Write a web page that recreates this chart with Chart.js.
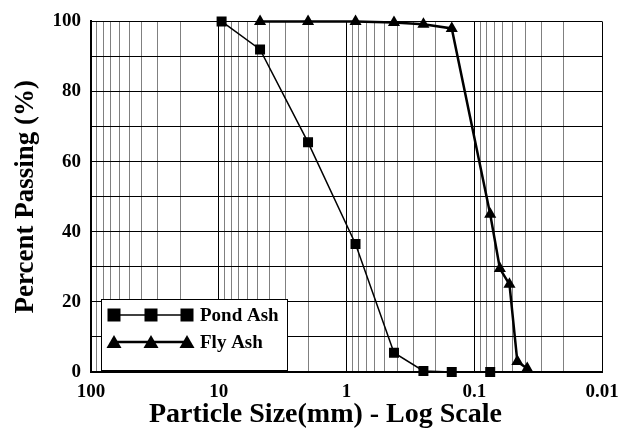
<!DOCTYPE html>
<html>
<head>
<meta charset="utf-8">
<script src="https://cdn.jsdelivr.net/npm/chart.js@4/dist/chart.umd.min.js"></script>
<style>
  html, body { margin: 0; padding: 0; background: #fff; }
  #chart { display: block; }
</style>
</head>
<body>
<canvas id="chart" width="630" height="432"></canvas>
<script>
// sieve / hydrometer sizes (mm) and percent passing
const pondSizes = [9.5, 4.75, 2.0, 0.85, 0.425, 0.25, 0.15, 0.075];
const pondPassing = [100, 92, 65.5, 36.5, 5.5, 0.3, 0, 0];

const flySizes = [4.75, 2.0, 0.85, 0.425, 0.25, 0.15, 0.075, 0.063, 0.053, 0.046, 0.0385];
const flyPassing = [100, 100, 100, 99.7, 99.2, 98, 45, 29.5, 25, 3, 1];

const seriesNames = ['Pond Ash', 'Fly Ash'];
const xTickLabels = [100, 10, 1, 0.1, 0.01];
const yTickLabels = [0, 20, 40, 60, 80, 100];

const FONT = '"Liberation Serif", "Times New Roman", serif';

const toPoints = (xs, ys) => xs.map((x, i) => ({x: x, y: ys[i]}));

// every 1..9 x 10^n between 0.01 and 100 for the log grid
const logTicks = [];
for (let e = -2; e <= 1; e++) {
  for (let m = 1; m <= 9; m++) {
    logTicks.push(+(m * Math.pow(10, e)).toPrecision(3));
  }
}
logTicks.push(100);

const isDecade = v => xTickLabels.some(t => Math.abs(t - v) < 1e-9);

// legend drawn as a box with three markers on a line, like the original
const boxLegend = {
  id: 'boxLegend',
  afterDraw(chart) {
    const ctx = chart.ctx;
    const left = 101, top = 299, w = 186, h = 71;
    ctx.save();
    ctx.fillStyle = '#fff';
    ctx.fillRect(left, top, w, h);
    ctx.strokeStyle = '#000';
    ctx.lineWidth = 1;
    ctx.strokeRect(left + 0.5, top + 0.5, w, h);

    const rows = [315, 342];
    const mx = [114, 151, 187];
    chart.data.datasets.forEach((ds, i) => {
      const y = rows[i];
      ctx.strokeStyle = '#000';
      ctx.lineWidth = ds.borderWidth;
      ctx.beginPath();
      ctx.moveTo(mx[0], y);
      ctx.lineTo(mx[2], y);
      ctx.stroke();
      ctx.fillStyle = '#000';
      mx.forEach(x => {
        if (ds.pointStyle === 'rect') {
          ctx.fillRect(x - 6.5, y - 6.5, 13, 13);
        } else {
          ctx.beginPath();
          ctx.moveTo(x, y - 7);
          ctx.lineTo(x + 7.5, y + 6);
          ctx.lineTo(x - 7.5, y + 6);
          ctx.closePath();
          ctx.fill();
        }
      });
      ctx.font = 'bold 19px ' + FONT;
      ctx.textBaseline = 'middle';
      ctx.textAlign = 'left';
      ctx.fillText(ds.label, 200, y + 1);
    });
    ctx.restore();
  }
};

new Chart(document.getElementById('chart'), {
  type: 'line',
  data: {
    datasets: [{
      label: seriesNames[0],
      data: toPoints(pondSizes, pondPassing),
      borderColor: '#000',
      backgroundColor: '#000',
      borderWidth: 1.5,
      pointStyle: 'rect',
      pointRadius: 6,
      pointHoverRadius: 6,
      tension: 0,
      clip: false
    }, {
      label: seriesNames[1],
      data: toPoints(flySizes, flyPassing),
      borderColor: '#000',
      backgroundColor: '#000',
      borderWidth: 2.5,
      pointStyle: 'triangle',
      pointRadius: 4.5,
      pointHoverRadius: 4.5,
      tension: 0,
      clip: false
    }]
  },
  options: {
    responsive: false,
    animation: false,
    devicePixelRatio: 1,
    layout: {padding: {top: 20, right: 28, left: 0, bottom: 0}},
    plugins: {
      legend: {display: false},
      tooltip: {enabled: false}
    },
    scales: {
      x: {
        type: 'logarithmic',
        reverse: true,
        min: 0.01,
        max: 100,
        afterBuildTicks: scale => { scale.ticks = logTicks.map(v => ({value: v})); },
        afterFit: scale => { scale.height = 60; },
        border: {color: '#000', width: 2},
        grid: {
          drawTicks: false,
          color: ctx => isDecade(ctx.tick.value) ? '#000' : '#808080',
          lineWidth: 1
        },
        ticks: {
          autoSkip: false,
          maxRotation: 0,
          padding: 9,
          color: '#000',
          font: {family: FONT, size: 19, weight: 'bold'},
          callback: v => isDecade(v) ? String(v) : ''
        },
        title: {
          display: true,
          // trailing spaces nudge the centred title left, as in the original
          text: 'Particle Size(mm) - Log Scale      ',
          color: '#000',
          font: {family: FONT, size: 28, weight: 'bold'},
          padding: {top: 0, bottom: 0}
        }
      },
      y: {
        min: 0,
        max: 100,
        afterFit: scale => { scale.width = 91; },
        border: {color: '#000', width: 2},
        grid: {drawTicks: false, color: '#000', lineWidth: 1},
        ticks: {
          stepSize: 10,
          padding: 10,
          color: '#000',
          font: {family: FONT, size: 19, weight: 'bold'},
          callback: v => yTickLabels.includes(v) ? String(v) : ''
        },
        title: {
          display: true,
          text: 'Percent Passing (%)',
          color: '#000',
          font: {family: FONT, size: 27, weight: 'bold'},
          padding: {top: 10, bottom: 0}
        }
      }
    }
  },
  plugins: [boxLegend]
});
</script>
</body>
</html>
